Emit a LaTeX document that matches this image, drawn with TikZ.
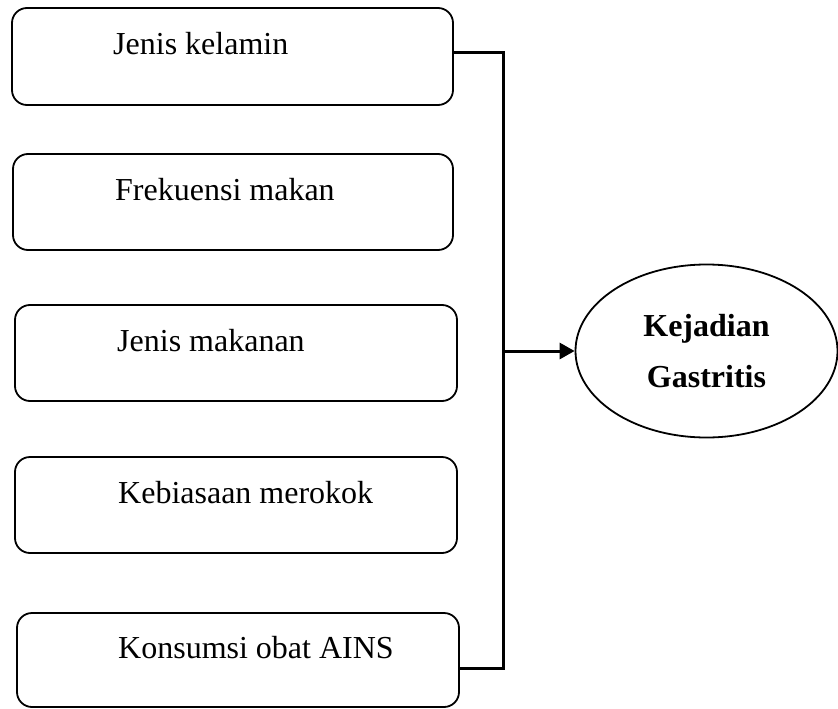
\documentclass[tikz,border=0pt]{standalone}
\usepackage{fontspec}
\setmainfont{Liberation Serif}
\usetikzlibrary{shapes.geometric,arrows.meta}
\begin{document}
\begin{tikzpicture}[x=1pt,y=-1pt,
  factorbox/.style={draw,line width=1.8pt,rounded corners=15pt,inner sep=0pt},
  factortext/.style={anchor=base west,inner sep=0pt,font=\fontsize{32}{38}\selectfont},
  conn/.style={line width=3pt},
  outcome/.style={draw,ellipse,line width=1.8pt,inner sep=0pt,minimum width=262pt,minimum height=173pt,align=center,font=\fontsize{32}{51}\selectfont\bfseries}]
\useasboundingbox (0,0) rectangle (838,709);
\node[factorbox,minimum width=441pt,minimum height=97pt] (b1) at (232.5,56.5) {};
\node[factorbox,minimum width=440pt,minimum height=96pt] (b2) at (233,202) {};
\node[factorbox,minimum width=442pt,minimum height=96pt] (b3) at (236,353) {};
\node[factorbox,minimum width=442pt,minimum height=96pt] (b4) at (236,505) {};
\node[factorbox,minimum width=442pt,minimum height=94pt] (b5) at (238,660) {};
\node[factortext] (t1) at (113,55) {Jenis kelamin};
\node[factortext] (t2) at (115,200) {Frekuensi makan};
\node[factortext] (t3) at (117,351) {Jenis makanan};
\node[factortext] (t4) at (118,503) {Kebiasaan merokok};
\node[factortext] (t5) at (118,658) {Konsumsi obat AINS};
\node[outcome] (g) at (706.5,351) {Kejadian\\Gastritis};
\coordinate (j1) at (503,53);
\coordinate (j5) at (503,668);
\coordinate (jm) at (503,351);
\draw[conn] (b1.east |- j1) -- (j1) -- (j5) -- (b5.east |- j5);
\draw[conn,-{Triangle[length=15pt,width=16pt]}] (jm) -- (g.west);
\end{tikzpicture}
\end{document}
